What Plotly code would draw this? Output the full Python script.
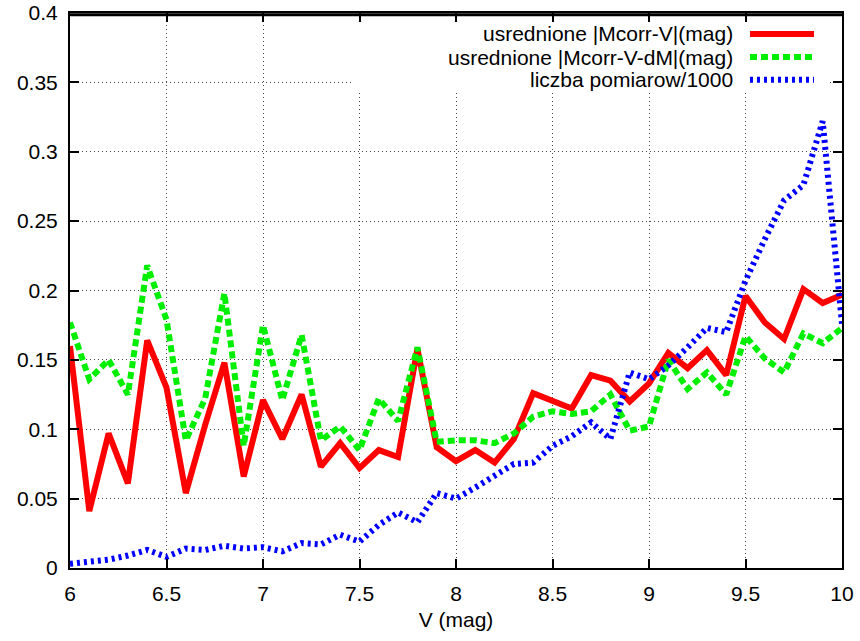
import plotly.graph_objects as go

V = [6.0, 6.1, 6.2, 6.3, 6.4, 6.5, 6.6, 6.7, 6.8, 6.9,
     7.0, 7.1, 7.2, 7.3, 7.4, 7.5, 7.6, 7.7, 7.8, 7.9,
     8.0, 8.1, 8.2, 8.3, 8.4, 8.5, 8.6, 8.7, 8.8, 8.9,
     9.0, 9.1, 9.2, 9.3, 9.4, 9.5, 9.6, 9.7, 9.8, 9.9, 10.0]

mcorr_v = [0.160, 0.041, 0.097, 0.061, 0.164, 0.130, 0.054, 0.103, 0.148, 0.066,
           0.121, 0.093, 0.125, 0.073, 0.090, 0.072, 0.085, 0.080, 0.158, 0.087,
           0.077, 0.085, 0.076, 0.093, 0.126, 0.121, 0.115, 0.139, 0.135, 0.120,
           0.133, 0.155, 0.144, 0.157, 0.139, 0.196, 0.177, 0.165, 0.201, 0.191, 0.197]

mcorr_v_dm = [0.177, 0.136, 0.150, 0.125, 0.218, 0.179, 0.092, 0.122, 0.198, 0.088,
              0.175, 0.121, 0.168, 0.092, 0.102, 0.085, 0.122, 0.106, 0.159, 0.091,
              0.092, 0.092, 0.090, 0.097, 0.109, 0.113, 0.111, 0.113, 0.125, 0.099,
              0.102, 0.150, 0.129, 0.141, 0.125, 0.167, 0.151, 0.141, 0.169, 0.162, 0.173]

pomiary = [0.003, 0.004, 0.006, 0.009, 0.013, 0.008, 0.014, 0.013, 0.016, 0.014,
           0.015, 0.012, 0.018, 0.017, 0.024, 0.019, 0.031, 0.040, 0.033, 0.054,
           0.050, 0.058, 0.067, 0.075, 0.076, 0.088, 0.095, 0.105, 0.093, 0.141,
           0.136, 0.146, 0.159, 0.173, 0.170, 0.207, 0.237, 0.265, 0.276, 0.322, 0.176]

names = ["usrednione |Mcorr-V|(mag)", "usrednione |Mcorr-V-dM|(mag)", "liczba pomiarow/1000"]
colors = ["#ff0000", "#00ee00", "#0000ff"]
dashes = ["solid", "7px,4px", "3px,4px"]
series = [mcorr_v, mcorr_v_dm, pomiary]

FONT = "Liberation Sans"

fig = go.Figure()
for name, col, dsh, ys in zip(names, colors, dashes, series):
    fig.add_trace(go.Scatter(x=V, y=ys, mode="lines", name=name,
                             line=dict(color=col, width=6, dash=dsh),
                             showlegend=False))

axis_common = dict(
    showline=True, linecolor="black", linewidth=2, mirror="allticks",
    ticks="inside", ticklen=9, tickwidth=1.5, tickcolor="black",
    showgrid=True, gridcolor="#444444", gridwidth=1, griddash="1px,3px",
    zeroline=False, automargin=False, ticklabeloverflow="allow",
    tickfont=dict(size=21, color="black", family=FONT),
)

fig.update_xaxes(range=[6, 10], dtick=0.5, tick0=6,
                 title=dict(text="V (mag)", font=dict(size=21, color="black", family=FONT), standoff=8),
                 ticklabelstandoff=6, **axis_common)
fig.update_yaxes(range=[0, 0.4], dtick=0.05, tick0=0,
                 ticklabelstandoff=6, **axis_common)

# opaque key box (hides grid like gnuplot key), kept below the top ticks
shapes = [dict(type="rect", xref="paper", yref="paper", x0=0.3666, x1=0.9845, y0=0.8564, y1=0.982,
               fillcolor="white", line=dict(width=0), layer="above"),
          # top frame edge
          dict(type="line", xref="paper", yref="paper", x0=0, x1=1, y0=0.997, y1=0.997,
               line=dict(color="black", width=3), layer="above")]
annotations = []
rows_y = [0.9622, 0.9207, 0.8798]
for name, col, dsh, ry in zip(names, colors, dashes, rows_y):
    annotations.append(dict(text=name, xref="paper", yref="paper", x=0.8614, y=ry,
                            xanchor="right", yanchor="middle", showarrow=False,
                            font=dict(size=21, color="black", family=FONT)))
    shapes.append(dict(type="line", xref="paper", yref="paper", x0=0.8808, x1=0.9637,
                       y0=ry, y1=ry, line=dict(color=col, width=6, dash=dsh), layer="above"))

fig.update_layout(
    width=860, height=641,
    margin=dict(l=70, r=18, t=13, b=73, autoexpand=False),
    paper_bgcolor="white", plot_bgcolor="white",
    font=dict(family=FONT, size=21, color="black"),
    shapes=shapes, annotations=annotations,
    showlegend=False,
)

fig.write_html("out.html", config={"displayModeBar": False},
               post_script="document.body.style.margin='0';document.body.style.overflow='hidden';")
